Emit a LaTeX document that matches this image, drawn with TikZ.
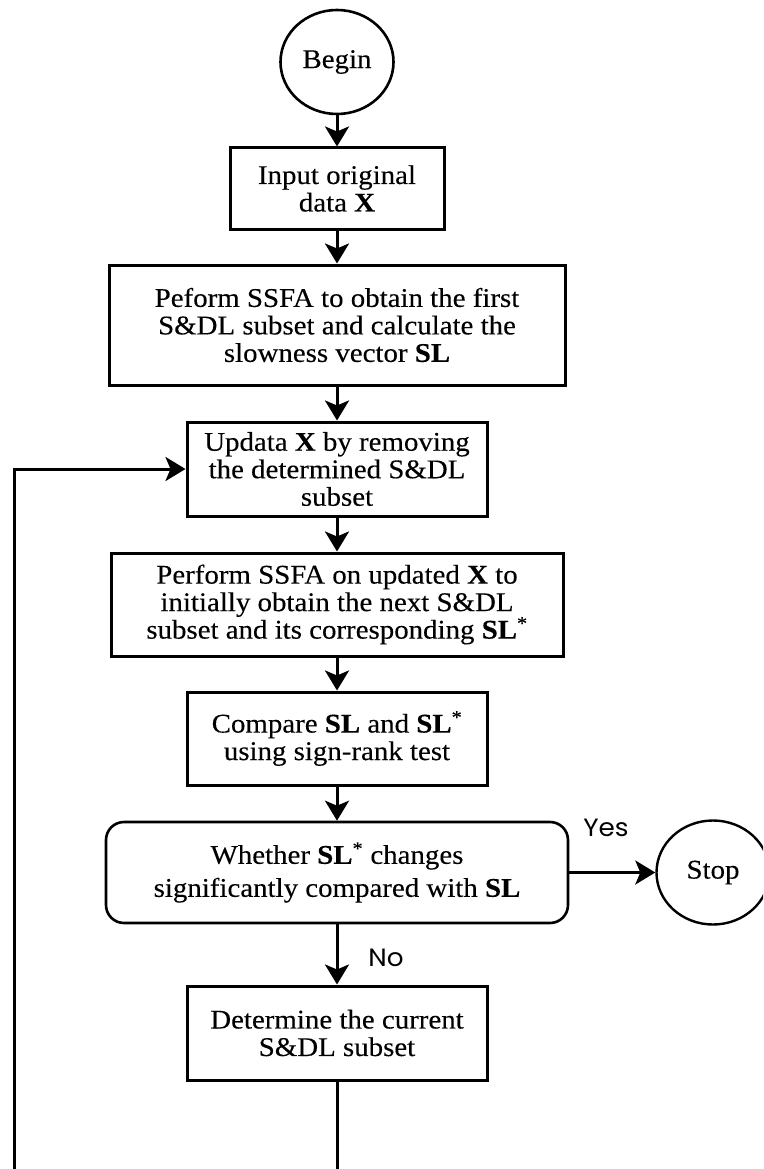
\documentclass[tikz,border=0pt]{standalone}
\usepackage{fontspec}
\setmainfont[FakeStretch=1.07,FakeBold=0.2]{Liberation Serif}
\newfontfamily\lblfont[FakeStretch=1.05]{Poppins}
\usetikzlibrary{arrows.meta,shapes.geometric}
\begin{document}
\begin{tikzpicture}[x=1pt,y=-1pt,
  box/.style={draw,line width=3pt,inner sep=0pt,align=center,
    font=\fontsize{27}{27.5}\selectfont},
  term/.style={draw,ellipse,line width=2.6pt,inner sep=0pt,
    minimum width=113pt,minimum height=104pt,font=\fontsize{27}{27.5}\selectfont},
  decbox/.style={draw,rounded corners=18pt,line width=2.6pt,inner sep=0pt,align=center,
    minimum width=462pt,minimum height=101pt,font=\fontsize{27}{33}\selectfont},
  arr/.style={line width=3pt,-{Stealth[length=20pt,width=24pt,inset=5pt]}},
  ln/.style={line width=3pt},
  lbl/.style={font=\lblfont\fontsize{25}{27}\selectfont,inner sep=0pt}]
\useasboundingbox (0,0) rectangle (763,1169);
\clip (0,0) rectangle (763,1169);
\node[term] (begin) at (337,62) {Begin};
\node[box,minimum width=214pt,minimum height=81pt] (input) at (337,188.5)
  {Input original\\data \textbf{X}};
\node[box,minimum width=456pt,minimum height=120pt] (ssfa) at (337,325)
  {Peform SSFA to obtain the first\\S\&DL subset and calculate the\\slowness vector \textbf{SL}};
\node[box,minimum width=300pt,minimum height=94pt] (upd) at (337,469)
  {Updata \textbf{X} by removing\\the determined S\&DL\\subset};
\node[box,minimum width=452pt,minimum height=103pt] (perf) at (337,604.5)
  {Perform SSFA on updated \textbf{X} to\\initially obtain the next S\&DL\\subset and its corresponding \textbf{SL}\textsuperscript{*}};
\node[box,minimum width=300pt,minimum height=93pt] (cmp) at (337,738.5)
  {Compare \textbf{SL} and \textbf{SL}\textsuperscript{*}\\using sign-rank test};
\node[decbox] (dec) at (337,872.5)
  {Whether \textbf{SL}\textsuperscript{*} changes\\significantly compared with \textbf{SL}};
\node[term,line width=2.4pt] (stop) at (713,872.5) {Stop};
\node[box,minimum width=300pt,minimum height=94pt] (det) at (337,1033)
  {Determine the current\\S\&DL subset};
\node[lbl] (yes) at (606,828) {Yes};
\node[lbl] (no) at (386,958) {No};
\coordinate (bm) at (337,1175);
\coordinate (bl) at (14,1175);
\draw[arr] (begin) -- (input);
\draw[arr] (input) -- (ssfa);
\draw[arr] (ssfa) -- (upd);
\draw[arr] (upd) -- (perf);
\draw[arr] (perf) -- (cmp);
\draw[arr] (cmp) -- (dec);
\draw[arr] (dec) -- (stop);
\draw[arr] (dec) -- (det);
\draw[ln] (det) -- (bm);
\draw[arr] (bl) |- (upd);
\end{tikzpicture}
\end{document}
